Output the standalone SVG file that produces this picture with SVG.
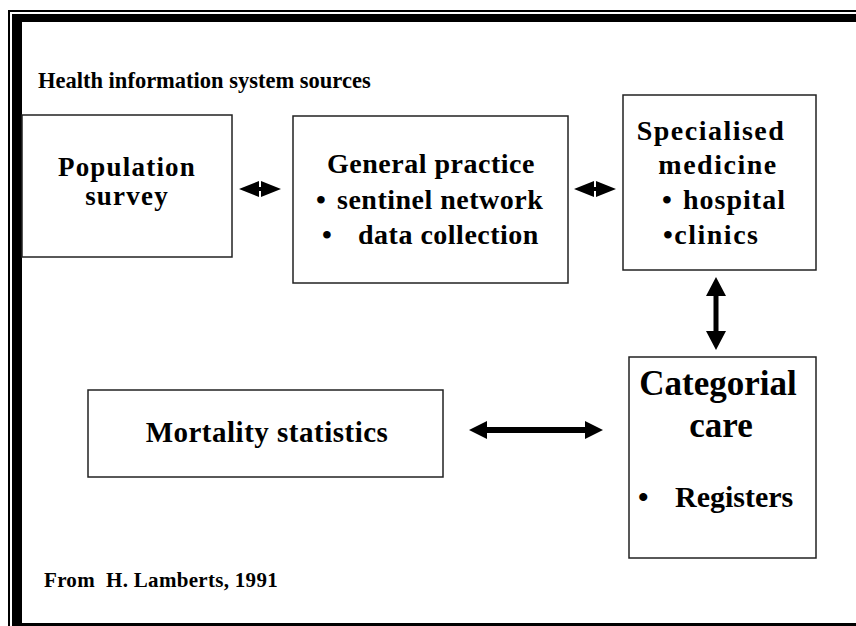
<svg xmlns="http://www.w3.org/2000/svg" width="856" height="626" viewBox="0 0 856 626">
<style>
  .t { font-family: "Liberation Serif", "Times New Roman", serif; font-weight: bold; fill: #000; }
  .box { fill: #fff; stroke: #222; stroke-width: 1.5; }
  .c { text-anchor: middle; }
</style>
<rect width="856" height="626" fill="#fff"/>
<g id="frame" fill="#000">
  <rect x="8" y="10" width="2" height="616"/>
  <rect x="8" y="10" width="848" height="2"/>
  <rect x="12" y="14" width="10" height="612"/>
  <rect x="12" y="14" width="844" height="8"/>
  <rect x="12" y="623" width="844" height="3"/>
</g>
<text class="t" x="38" y="88" font-size="22.5">Health information system sources</text>
<g id="population">
  <rect class="box" x="22" y="115" width="210" height="142"/>
  <text class="t c" x="127" y="176" font-size="27" letter-spacing="1.2">Population</text>
  <text class="t c" x="127" y="205" font-size="27" letter-spacing="1.2">survey</text>
</g>
<g id="general">
  <rect class="box" x="293" y="116" width="275" height="167"/>
  <text class="t c" x="431" y="173" font-size="28" letter-spacing="0.5">General practice</text>
  <text class="t" x="316" y="209" font-size="28" letter-spacing="0.5">•</text>
  <text class="t" x="337" y="209" font-size="28" letter-spacing="0.5">sentinel network</text>
  <text class="t" x="322" y="244" font-size="28" letter-spacing="0.5">•</text>
  <text class="t" x="358" y="244" font-size="28" letter-spacing="0.5">data collection</text>
</g>
<g id="specialised">
  <rect class="box" x="623" y="95" width="193" height="175"/>
  <text class="t c" x="711" y="140" font-size="28" letter-spacing="1.5">Specialised</text>
  <text class="t c" x="718" y="174" font-size="28" letter-spacing="1.5">medicine</text>
  <text class="t" x="662" y="209" font-size="28" letter-spacing="1">•</text>
  <text class="t" x="683" y="209" font-size="28" letter-spacing="1">hospital</text>
  <text class="t" x="663" y="244" font-size="28" letter-spacing="1.5">•clinics</text>
</g>
<g id="categorial">
  <rect class="box" x="629" y="357" width="187" height="201"/>
  <text class="t c" x="718" y="395" font-size="35">Categorial</text>
  <text class="t c" x="721" y="437" font-size="35">care</text>
  <text class="t" x="638" y="507" font-size="30">•</text>
  <text class="t" x="675" y="507" font-size="30">Registers</text>
</g>
<g id="mortality">
  <rect class="box" x="88" y="390" width="355" height="87"/>
  <text class="t c" x="267" y="442" font-size="29" letter-spacing="0.5">Mortality statistics</text>
</g>
<text class="t" x="44" y="587" font-size="21" letter-spacing="0.3" xml:space="preserve">From  H. Lamberts, 1991</text>
<g id="connectors" fill="#000">
  <path d="M239,189 L259,181 L259,187 L261,187 L261,181 L281,189 L261,197 L261,191 L259,191 L259,197 Z"/>
  <path d="M574,189 L594,181 L594,187 L596,187 L596,181 L616,189 L596,197 L596,191 L594,191 L594,197 Z"/>
  <path d="M716,277 L726,296 L718.5,296 L718.5,331 L726,331 L716,350 L706,331 L713.5,331 L713.5,296 L706,296 Z"/>
  <path d="M469,430 L487,421 L487,427 L585,427 L585,421 L603,430 L585,439 L585,433 L487,433 L487,439 Z"/>
</g>
</svg>
